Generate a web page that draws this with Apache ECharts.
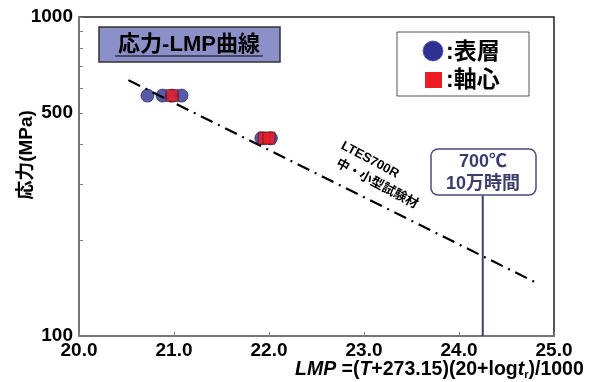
<!DOCTYPE html>
<html>
<head>
<meta charset="utf-8">
<script src="https://cdn.jsdelivr.net/npm/echarts@6/dist/echarts.min.js"></script>
<style>
  html, body { margin: 0; padding: 0; background: #fff; }
  #chart { width: 614px; height: 382px; }
</style>
</head>
<body>
<div id="chart"></div>
<script>
// Creep rupture data plotted against the Larson-Miller parameter
const xTicks = [20, 21, 22, 23, 24, 25];
const yTickValues = [100, 200, 300, 400, 500, 600, 700, 800, 900, 1000];
const yLabelValues = [100, 500, 1000];

// Surface layer (表層) specimens: [LMP, stress MPa]
const surfacePoints = [
  [20.72, 567], [20.88, 567], [20.98, 567], [21.08, 567],
  [21.92, 417], [22.02, 417]
];
// Core (軸心) specimens
const corePoints = [
  [20.98, 567],
  [21.95, 417], [22.0, 417]
];
// Master curve for LTES700R small/medium test material
const masterCurve = [[20.52, 634], [24.81, 147]];
// 700 ℃ / 100,000 h design point
const designLMP = 24.25;
const designLine = [[designLMP, 100], [designLMP, 280]];

const FONT = '"Liberation Sans", Arial, "Noto Sans CJK JP", sans-serif';

const chart = echarts.init(document.getElementById('chart'), null, { renderer: 'canvas' });

chart.setOption({
  backgroundColor: '#ffffff',
  animation: false,
  grid: {
    left: 79, right: 60, top: 17, bottom: 46,
    show: true, borderColor: '#222', borderWidth: 1.5, backgroundColor: 'transparent'
  },
  xAxis: {
    type: 'value',
    min: xTicks[0], max: xTicks[xTicks.length - 1], interval: 1,
    axisLine: { lineStyle: { color: '#808080', width: 1.5 } },
    axisTick: { inside: true, length: 4, lineStyle: { color: '#808080' } },
    splitLine: { show: false },
    axisLabel: {
      margin: 5, color: '#000', fontSize: 19, fontWeight: 'bold', fontFamily: FONT,
      formatter: v => v.toFixed(1)
    }
  },
  yAxis: {
    type: 'log', logBase: 10, min: 100, max: 1000,
    axisLine: { lineStyle: { color: '#808080', width: 1.5 } },
    axisTick: { inside: true, length: 4, customValues: yTickValues, lineStyle: { color: '#808080' } },
    splitLine: { show: false },
    minorTick: { show: false },
    axisLabel: {
      margin: 6, color: '#000', fontSize: 19, fontWeight: 'bold', fontFamily: FONT,
      customValues: yLabelValues,
      formatter: v => String(Math.round(v))
    }
  },
  series: [
    {
      name: '表層', type: 'scatter', data: surfacePoints, z: 2,
      symbol: 'circle', symbolSize: 13,
      itemStyle: { color: '#2e3192', borderColor: '#1b1d5a', borderWidth: 0.8 }
    },
    {
      name: 'LTES700R', type: 'line', data: masterCurve, z: 3,
      symbol: 'none', silent: true,
      lineStyle: { color: '#000', width: 2.2, type: [13, 6, 2, 6] }
    },
    {
      name: '軸心', type: 'scatter', data: corePoints, z: 4,
      symbol: 'rect', symbolSize: 12,
      itemStyle: { color: '#ed1c24', borderColor: '#4a1010', borderWidth: 0.8 }
    },
    {
      name: '700℃10万時間', type: 'line', data: designLine, z: 3,
      symbol: 'none', silent: true,
      lineStyle: { color: '#3d3f6e', width: 2 }
    }
  ],
  graphic: [
    // title box
    { type: 'rect', z: 100, shape: { x: 99, y: 27, width: 181, height: 35 },
      style: { fill: '#8c90c8', stroke: '#333', lineWidth: 1.5 } },
    { type: 'text', z: 101, x: 189, y: 45,
      style: { text: '応力-LMP曲線', fill: '#000', font: 'bold 22px ' + FONT, align: 'center', verticalAlign: 'middle' } },
    { type: 'line', z: 101, shape: { x1: 115, y1: 56, x2: 263, y2: 56 },
      style: { stroke: '#000', lineWidth: 1.2 } },

    // legend box
    { type: 'rect', z: 100, shape: { x: 397, y: 32, width: 132, height: 64 },
      style: { fill: '#fff', stroke: '#555', lineWidth: 1 } },
    { type: 'circle', z: 101, shape: { cx: 433, cy: 51, r: 10 },
      style: { fill: '#2e3192', stroke: '#4a50a8', lineWidth: 0.8 } },
    { type: 'text', z: 101, x: 446, y: 53,
      style: { text: ':表層', fill: '#000', font: 'bold 23px ' + FONT, verticalAlign: 'middle' } },
    { type: 'rect', z: 101, shape: { x: 425, y: 72, width: 17, height: 16 },
      style: { fill: '#ed1c24' } },
    { type: 'text', z: 101, x: 446, y: 81,
      style: { text: ':軸心', fill: '#000', font: 'bold 23px ' + FONT, verticalAlign: 'middle' } },

    // design point box
    { type: 'rect', z: 100, shape: { x: 431, y: 149, width: 105, height: 46, r: 7 },
      style: { fill: '#fff', stroke: '#4b4e7a', lineWidth: 1.5 } },
    { type: 'text', z: 101, x: 483, y: 162,
      style: { text: '700℃', fill: '#3a3d6b', font: 'bold 18px ' + FONT, align: 'center', verticalAlign: 'middle' } },
    { type: 'text', z: 101, x: 483, y: 184,
      style: { text: '10万時間', fill: '#3a3d6b', font: 'bold 18px ' + FONT, align: 'center', verticalAlign: 'middle' } },

    // curve annotation
    { type: 'text', z: 101, x: 370, y: 160, rotation: -0.49,
      style: { text: 'LTES700R', fill: '#000', font: 'bold 13px ' + FONT, align: 'center', verticalAlign: 'middle' } },
    { type: 'text', z: 101, x: 377, y: 184, rotation: -0.49,
      style: { text: '中・小型試験材', fill: '#000', font: 'bold 13px ' + FONT, align: 'center', verticalAlign: 'middle' } },

    // axis titles
    { type: 'text', z: 101, x: 27, y: 155, rotation: Math.PI / 2,
      style: { text: '応力(MPa)', fill: '#000', font: 'bold 19px ' + FONT, align: 'center', verticalAlign: 'middle' } },
    { type: 'text', z: 101, x: 295, y: 370,
      style: {
        text: '{i|LMP} =({i|T}+273.15)(20+log{i|t}{s|r})/1000',
        fill: '#000', font: 'bold 19.5px ' + FONT, verticalAlign: 'middle',
        rich: {
          i: { fontStyle: 'italic', fontWeight: 'bold', fontSize: 19.5, fontFamily: FONT },
          s: { fontWeight: 'bold', fontSize: 11, fontFamily: FONT, verticalAlign: 'bottom', padding: [9, 0, 0, 0] }
        }
      } }
  ]
});
</script>
</body>
</html>
